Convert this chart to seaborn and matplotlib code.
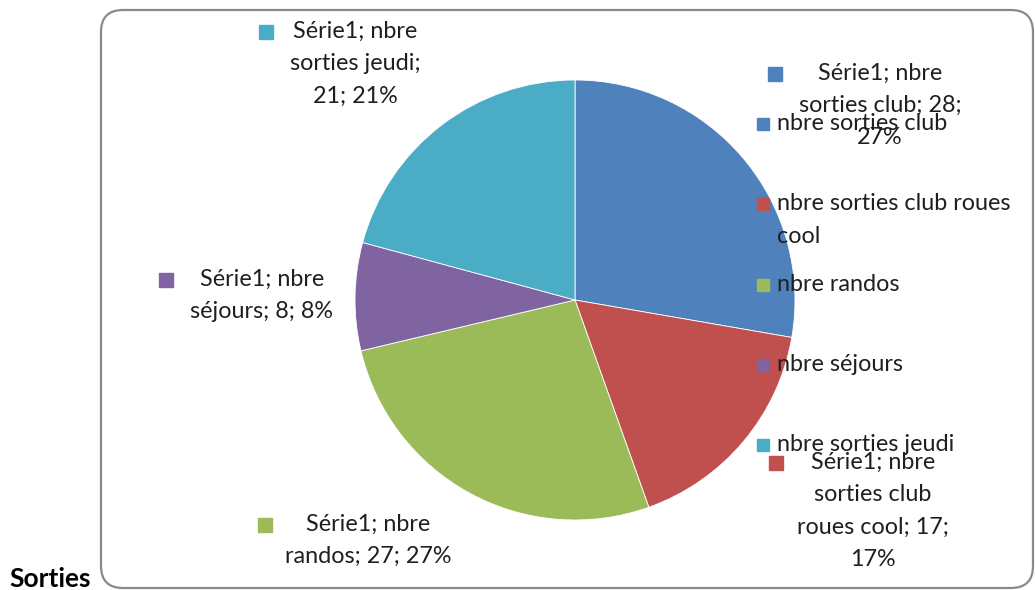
import textwrap
import matplotlib
matplotlib.use("Agg")
import matplotlib.pyplot as plt
import seaborn as sns
from matplotlib.patches import FancyBboxPatch

# data
series_name = "Série1"
categories = ["nbre sorties club", "nbre sorties club roues cool", "nbre randos",
              "nbre séjours", "nbre sorties jeudi"]
values = [28, 17, 27, 8, 21]
percent_labels = ["27%", "17%", "27%", "8%", "21%"]
colors = ["#4F81BD", "#C0504D", "#9BBB59", "#8064A2", "#4BACC6"]

# layout (pixel positions, y from top) of the Excel data labels: marker x, first line y, text centre x
label_layout = [(775, 74, 880), (776, 463, 873), (265, 525, 368), (166, 280, 262), (266, 32, 355)]
label_wrap = [17, 15, 15, 14, 14]
legend_x, legend_y0, legend_step = 763, 124, 80.3

sns.set_theme(style="white")
plt.rcParams["font.family"] = ["Lato", "DejaVu Sans"]
palette = sns.color_palette(colors)
text_color = "#1f1f1f"
fs = 16.8
ls = 1.66
off = 11

fig = plt.figure(figsize=(10.35, 5.9), dpi=100)

# pie axes: centre (575, 300), radius 220 px
pie_ax = fig.add_axes([355 / 1035, 70 / 590, 440 / 1035, 440 / 590])
pie_ax.pie(values, colors=palette, startangle=90, counterclock=False,
           wedgeprops=dict(linewidth=0.6, edgecolor="white"), radius=1)
pie_ax.set_aspect("equal")
pie_ax.set_xlim(-1, 1)
pie_ax.set_ylim(-1, 1)
pie_ax.axis("off")

# overlay in pixel coordinates for frame, labels and legend
ov = fig.add_axes([0, 0, 1, 1], zorder=3)
ov.set_xlim(0, 1035)
ov.set_ylim(590, 0)
ov.patch.set_alpha(0)
ov.axis("off")

frame = FancyBboxPatch((101, 10), 932, 578, boxstyle="round,pad=0,rounding_size=22",
                       facecolor="none", edgecolor="#8a8a8a", linewidth=1.6)
ov.add_patch(frame)
ov.text(9, 587, "Sorties", fontsize=19, fontweight="bold", color="black", va="baseline", ha="left")

# data labels
for i, cat in enumerate(categories):
    mx, my, cx = label_layout[i]
    txt = textwrap.fill(f"{series_name}; {cat}; {values[i]}; {percent_labels[i]}", width=label_wrap[i])
    ov.plot(mx, my, marker="s", markersize=10, color=palette[i], linestyle="none")
    ov.text(cx, my - off, txt, fontsize=fs, color=text_color, ha="center", va="top",
            linespacing=ls, multialignment="center")

# legend
for i, cat in enumerate(categories):
    ly = legend_y0 + legend_step * i
    ov.plot(legend_x, ly, marker="s", markersize=9, color=palette[i], linestyle="none")
    ov.text(legend_x + 14, ly - off, textwrap.fill(cat, width=23), fontsize=fs, color=text_color,
            ha="left", va="top", linespacing=ls)

fig.savefig("out.png", dpi=100)
